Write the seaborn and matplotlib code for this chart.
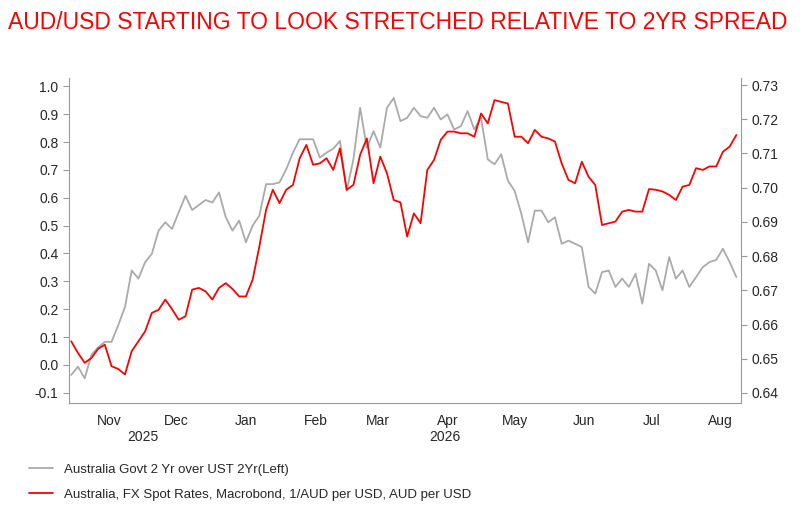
import pandas as pd
import seaborn as sns
import matplotlib.pyplot as plt
import matplotlib.dates as mdates
import numpy as np

# observations every 3 days starting 30 Oct 2025
start = pd.Timestamp('2025-10-30')
spread = [-0.036, -0.006, -0.048, 0.036, 0.063, 0.083, 0.083, 0.143, 0.208, 0.339, 0.310, 0.369, 0.399,
          0.482, 0.512, 0.488, 0.548, 0.607, 0.556, 0.574, 0.592, 0.583, 0.619, 0.530, 0.482, 0.518,
          0.440, 0.500, 0.536, 0.649, 0.649, 0.655, 0.702, 0.762, 0.810, 0.810, 0.810, 0.744, 0.762,
          0.776, 0.804, 0.625, 0.738, 0.923, 0.780, 0.839, 0.780, 0.923, 0.958, 0.875, 0.887, 0.923,
          0.893, 0.887, 0.923, 0.881, 0.899, 0.845, 0.857, 0.911, 0.845, 0.887, 0.738, 0.720, 0.756,
          0.661, 0.625, 0.542, 0.440, 0.554, 0.554, 0.512, 0.530, 0.435, 0.446, 0.435, 0.423, 0.280,
          0.256, 0.333, 0.339, 0.280, 0.310, 0.280, 0.327, 0.220, 0.363, 0.339, 0.268, 0.387, 0.310,
          0.339, 0.280, 0.315, 0.351, 0.369, 0.377, 0.417, 0.369, 0.315]
audusd = [0.6551, 0.6517, 0.6488, 0.6502, 0.6529, 0.6541, 0.6478, 0.6470, 0.6454, 0.6522, 0.6551,
          0.6580, 0.6634, 0.6643, 0.6673, 0.6645, 0.6614, 0.6624, 0.6702, 0.6707, 0.6697, 0.6673,
          0.6707, 0.6721, 0.6704, 0.6682, 0.6682, 0.6731, 0.6828, 0.6935, 0.6994, 0.6955, 0.6994,
          0.7008, 0.7086, 0.7125, 0.7067, 0.7071, 0.7086, 0.7052, 0.7115, 0.6994, 0.7008, 0.7096,
          0.7144, 0.7013, 0.7091, 0.7042, 0.6964, 0.6957, 0.6857, 0.6925,
          0.6896, 0.7052, 0.7081, 0.7140, 0.7164, 0.7164, 0.7159, 0.7159, 0.7149, 0.7217, 0.7188,
          0.7256, 0.7251, 0.7246, 0.7149, 0.7149, 0.7130, 0.7169, 0.7149, 0.7144, 0.7135, 0.7071,
          0.7023, 0.7013, 0.7076, 0.7032, 0.7008, 0.6891, 0.6896, 0.6901, 0.6930, 0.6935, 0.6930,
          0.6930, 0.6996, 0.6994, 0.6989, 0.6979, 0.6964, 0.7003, 0.7008, 0.7057, 0.7052, 0.7062,
          0.7062, 0.7105, 0.7120, 0.7154]
left_ticks = [-0.1, 0.0, 0.1, 0.2, 0.3, 0.4, 0.5, 0.6, 0.7, 0.8, 0.9, 1.0]
right_ticks = [0.64, 0.65, 0.66, 0.67, 0.68, 0.69, 0.70, 0.71, 0.72, 0.73]

df = pd.DataFrame({'date': start + pd.to_timedelta(np.arange(len(spread)) * 3, unit='D'),
                   'spread': spread, 'audusd': audusd})

sns.set_style('white')
plt.rcParams['font.family'] = ['Liberation Sans', 'DejaVu Sans']
fig = plt.figure(figsize=(8.07, 5.08), dpi=100)
ax = fig.add_axes([0.0855, 0.207, 0.8325, 0.639])
ax2 = ax.twinx()

sns.lineplot(data=df, x='date', y='spread', ax=ax, color='#aaaaaa', lw=1.3,
             label='Australia Govt 2 Yr over UST 2Yr(Left)', legend=False)
sns.lineplot(data=df, x='date', y='audusd', ax=ax2, color='#ff0000', lw=1.3,
             label='Australia, FX Spot Rates, Macrobond, 1/AUD per USD, AUD per USD', legend=False)

ax.set_xlim(pd.Timestamp('2025-10-29'), pd.Timestamp('2026-08-25'))
ax.set_ylim(-0.136, 1.029)
ax2.set_ylim(0.6371, 0.732)
ax.set_yticks(left_ticks)
ax.set_yticklabels([f'{t:.1f}' for t in left_ticks])
ax2.set_yticks(right_ticks)
ax2.set_yticklabels([f'{t:.2f}' for t in right_ticks])

ax.xaxis.set_major_locator(mdates.MonthLocator(bymonthday=1))
ax.xaxis.set_major_formatter(plt.NullFormatter())
ax.xaxis.set_minor_locator(mdates.MonthLocator(bymonthday=16))
ax.xaxis.set_minor_formatter(mdates.DateFormatter('%b'))
ax.tick_params(axis='x', which='minor', length=0, labelsize=10, pad=8)
ax.tick_params(axis='x', which='major', length=4, color='#999999')
ax.set_xlabel('')
ax.set_ylabel('')
ax2.set_ylabel('')
for a in (ax, ax2):
    a.tick_params(axis='y', length=4, color='#999999', labelsize=10, left=(a is ax), right=(a is ax2))
    for s in a.spines.values():
        s.set_color('#999999')
    a.spines['top'].set_visible(False)
ax.spines['right'].set_visible(False)
ax2.spines['left'].set_visible(False)
ax2.spines['bottom'].set_visible(False)

# year labels under the months
ax.text(pd.Timestamp('2025-12-01'), -0.085, '2025', transform=ax.get_xaxis_transform(), ha='center', va='top', fontsize=10)
ax.text(pd.Timestamp('2026-04-15'), -0.085, '2026', transform=ax.get_xaxis_transform(), ha='center', va='top', fontsize=10)

fig.text(0.01, 0.955, 'AUD/USD STARTING TO LOOK STRETCHED RELATIVE TO 2YR SPREAD',
         color='#ff0000', fontsize=16.5, va='center')

h1, l1 = ax.get_legend_handles_labels()
h2, l2 = ax2.get_legend_handles_labels()
fig.legend(h1 + h2, l1 + l2, loc='upper left', bbox_to_anchor=(0.03, 0.098), frameon=False,
           fontsize=9.5, handlelength=1.8, labelspacing=0.95, borderaxespad=0)

fig.savefig('out.png', dpi=100)
